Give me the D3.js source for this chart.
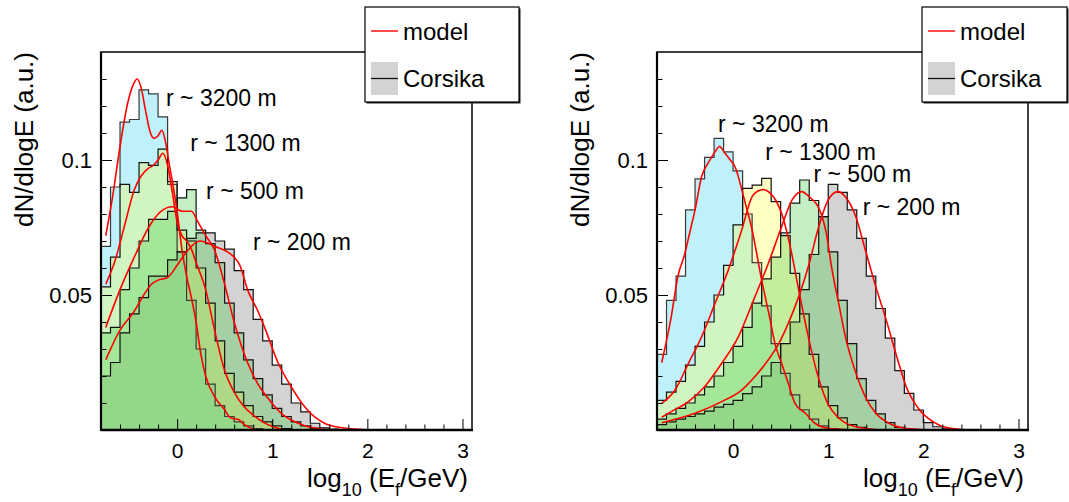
<!DOCTYPE html>
<html><head><meta charset="utf-8">
<script src="https://cdn.jsdelivr.net/npm/d3@7"></script>
<style>
html,body{margin:0;padding:0;background:#fff;}
svg{display:block;font-family:"Liberation Sans",Arial,sans-serif;}
</style></head><body>
<svg id="chart" width="1069" height="502"></svg>
<script>
// ---------------- DATA ----------------
const seriesNames = ["r ~ 3200 m", "r ~ 1300 m", "r ~ 500 m", "r ~ 200 m"];
const binStart = -0.8, binWidth = 0.1;
const xTickLabels = [0, 1, 2, 3];
const yTickLabels = [0.05, 0.1];

// Left panel: Corsika histograms (bins of 0.1 starting at -0.8)
const leftH3200 = [0.068,0.090,0.114,0.115,0.126,0.1245,0.116,0.091,0.066,0.048,0.030,0.017,0.009,0.005,0.003,0.0015,0.0005];
const leftH1300 = [0.053,0.064,0.091,0.088,0.099,0.098,0.104,0.092,0.074,0.070,0.060,0.047,0.033,0.021,0.014,0.009,0.005,0.003,0.0015,0.0005];
const leftH500  = [0.036,0.038,0.052,0.060,0.070,0.078,0.078,0.081,0.086,0.089,0.074,0.069,0.062,0.047,0.036,0.026,0.019,0.013,0.008,0.005,0.003,0.0015,0.0007];
const leftH200  = [0.020,0.025,0.036,0.043,0.049,0.057,0.057,0.063,0.066,0.071,0.073,0.073,0.070,0.067,0.059,0.052,0.041,0.033,0.024,0.017,0.010,0.0067,0.0025,0.0008,0.0003];

// Left panel: model curves [log10 E, dN/dlogE]
const leftM3200 = [[-0.75,0.072],[-0.68,0.086],[-0.6,0.105],[-0.52,0.121],[-0.46,0.128],[-0.42,0.130],[-0.38,0.127],[-0.33,0.118],[-0.28,0.110],[-0.24,0.108],[-0.2,0.109],[-0.16,0.111],[-0.13,0.108],[-0.08,0.098],[-0.04,0.090],[0,0.081],[0.05,0.067],[0.1,0.057],[0.15,0.049],[0.2,0.040],[0.25,0.028],[0.3,0.020],[0.4,0.012],[0.5,0.0075],[0.55,0.0048],[0.6,0.0042],[0.65,0.0038],[0.7,0.0022],[0.8,0.0003]];
const leftM1300 = [[-0.75,0.054],[-0.65,0.063],[-0.55,0.076],[-0.45,0.089],[-0.38,0.094],[-0.3,0.097],[-0.25,0.098],[-0.2,0.100],[-0.15,0.1025],[-0.1,0.098],[-0.05,0.088],[0,0.077],[0.05,0.072],[0.1,0.070],[0.15,0.067],[0.2,0.062],[0.3,0.052],[0.4,0.036],[0.5,0.022],[0.6,0.014],[0.7,0.0088],[0.8,0.0055],[0.9,0.003],[1.0,0.0013],[1.1,0.0003]];
const leftM500  = [[-0.75,0.038],[-0.6,0.052],[-0.45,0.064],[-0.3,0.075],[-0.17,0.081],[-0.05,0.0827],[0.05,0.081],[0.15,0.081],[0.22,0.077],[0.3,0.072],[0.39,0.067],[0.5,0.054],[0.6,0.040],[0.74,0.025],[0.85,0.017],[0.95,0.012],[1.1,0.006],[1.2,0.0037],[1.35,0.0015],[1.55,0.0002]];
const leftM200  = [[-0.75,0.026],[-0.6,0.037],[-0.45,0.044],[-0.35,0.050],[-0.27,0.054],[-0.2,0.0555],[-0.1,0.0565],[0,0.061],[0.1,0.066],[0.2,0.0695],[0.25,0.070],[0.3,0.0695],[0.4,0.068],[0.53,0.066],[0.6,0.064],[0.66,0.061],[0.74,0.052],[0.85,0.044],[0.92,0.038],[1.06,0.025],[1.2,0.016],[1.37,0.0074],[1.55,0.0025],[1.7,0.001],[2.0,0.0001]];

// Right panel: Corsika histograms
const rightH3200 = [0.028,0.048,0.057,0.0815,0.093,0.101,0.108,0.103,0.096,0.080,0.062,0.046,0.032,0.021,0.013,0.0075,0.004,0.0015,0.0005];
const rightH1300 = [0.011,0.014,0.018,0.024,0.031,0.040,0.050,0.061,0.076,0.0895,0.0907,0.0932,0.0846,0.072,0.058,0.043,0.028,0.016,0.009,0.0045,0.002,0.001];
const rightH500  = [0.004,0.006,0.008,0.010,0.013,0.016,0.020,0.025,0.031,0.038,0.047,0.056,0.064,0.073,0.084,0.0926,0.085,0.079,0.066,0.048,0.032,0.019,0.011,0.006,0.0027,0.001,0.0004];
const rightH200  = [0.002,0.003,0.004,0.005,0.006,0.007,0.0085,0.0095,0.011,0.0135,0.016,0.020,0.025,0.032,0.040,0.052,0.065,0.079,0.091,0.088,0.0815,0.071,0.057,0.045,0.034,0.022,0.0136,0.0074,0.0027,0.0012,0.0004];

// Right panel: model curves
const rightM3200 = [[-0.75,0.025],[-0.65,0.042],[-0.58,0.057],[-0.51,0.065],[-0.45,0.074],[-0.4,0.0815],[-0.33,0.094],[-0.26,0.099],[-0.19,0.103],[-0.145,0.105],[-0.085,0.1025],[-0.03,0.100],[0.02,0.0975],[0.11,0.0864],[0.2,0.074],[0.3,0.0556],[0.39,0.0407],[0.44,0.032],[0.51,0.0247],[0.58,0.0173],[0.65,0.0099],[0.76,0.0062],[0.86,0.0025],[1.0,0.0006],[1.2,0.0001]];
const rightM1300 = [[-0.75,0.0099],[-0.61,0.0148],[-0.47,0.0247],[-0.33,0.0346],[-0.19,0.0469],[-0.05,0.0593],[0.09,0.074],[0.2,0.0864],[0.26,0.0885],[0.32,0.0891],[0.38,0.088],[0.45,0.085],[0.53,0.078],[0.6,0.068],[0.7,0.050],[0.8,0.033],[0.9,0.019],[1.0,0.0095],[1.1,0.0048],[1.25,0.0016],[1.5,0.0002]];
const rightM500  = [[-0.75,0.0047],[-0.65,0.0068],[-0.47,0.0105],[-0.3,0.016],[-0.12,0.0247],[0.056,0.0346],[0.23,0.0494],[0.37,0.0617],[0.51,0.0753],[0.62,0.0852],[0.72,0.0883],[0.8,0.0864],[0.91,0.0815],[0.98,0.0728],[1.04,0.0593],[1.11,0.0469],[1.18,0.0346],[1.28,0.0222],[1.39,0.0123],[1.5,0.0062],[1.64,0.0025],[1.81,0.0006],[2.0,0.0001]];
const rightM200  = [[-0.75,0.0027],[-0.4,0.0062],[-0.12,0.0105],[0.09,0.0148],[0.23,0.0198],[0.37,0.026],[0.48,0.032],[0.58,0.0395],[0.69,0.0494],[0.8,0.0617],[0.9,0.0753],[1.0,0.0852],[1.1,0.0883],[1.18,0.0864],[1.29,0.079],[1.39,0.0667],[1.5,0.0531],[1.61,0.0407],[1.72,0.0272],[1.82,0.016],[1.96,0.0074],[2.1,0.0031],[2.24,0.0009],[2.4,0.0002],[2.6,0.0]];

// ---------------- CONFIG (positions / styles) ----------------
const xDomain = [-0.8, 3.1], yDomain = [0, 0.14];
const fillColors = ["#28d2f0", "#ffff3c", "#3cc83c", "#6e6e6e"];
const fillOpacity = 0.3;
const drawOrder = [3, 0, 1, 2];
const leftLabelAt  = [[-0.116,0.120],[0.137,0.1033],[0.305,0.0856],[0.798,0.0667]];
const rightLabelAt = [[-0.158,0.1104],[0.338,0.1000],[0.845,0.0918],[1.362,0.0796]];

const panels = [
  {x0:101, hist:[leftH3200,leftH1300,leftH500,leftH200], model:[leftM3200,leftM1300,leftM500,leftM200], labelAt:leftLabelAt, legX:365, legW:154, ytx:33},
  {x0:657, hist:[rightH3200,rightH1300,rightH500,rightH200], model:[rightM3200,rightM1300,rightM500,rightM200], labelAt:rightLabelAt, legX:922, legW:145, ytx:589}
];
const PW = 371, PTOP = 52, PBOT = 430;

const svg = d3.select("#chart");
svg.append("rect").attr("width",1069).attr("height",502).attr("fill","#fff");

panels.forEach((p, pi) => {
  const x = d3.scaleLinear().domain(xDomain).range([p.x0, p.x0 + PW]);
  const y = d3.scaleLinear().domain(yDomain).range([PBOT, PTOP]);
  const g = svg.append("g");
  const clipId = "clip" + pi;
  svg.append("clipPath").attr("id", clipId).append("rect")
    .attr("x", p.x0).attr("y", PTOP).attr("width", PW).attr("height", PBOT - PTOP);

  const plot = g.append("g").attr("clip-path", `url(#${clipId})`);

  const stepPts = vals => {
    const pts = [[binStart, 0]];
    vals.forEach((v, i) => {
      const a = binStart + i * binWidth, b = a + binWidth;
      pts.push([a, v], [b, v]);
    });
    pts.push([binStart + vals.length * binWidth, 0]);
    return pts;
  };
  const line = d3.line().x(d => x(d[0])).y(d => y(d[1]));

  // fills
  drawOrder.forEach(i => {
    plot.append("path").attr("d", line(stepPts(p.hist[i])) + "Z")
      .attr("fill", fillColors[i]).attr("fill-opacity", fillOpacity).attr("stroke", "none");
  });
  // outlines
  p.hist.forEach((vals, i) => {
    plot.append("path").attr("d", line(stepPts(vals)))
      .attr("fill", "none").attr("stroke", i === 0 ? "#3a3a3a" : "#111").attr("stroke-width", 1.2);
  });
  // model curves
  const curve = d3.line().x(d => x(d[0])).y(d => y(d[1])).curve(d3.curveMonotoneX);
  p.model.forEach(m => {
    plot.append("path").attr("d", curve(m)).attr("fill", "none")
      .attr("stroke", "#ff0000").attr("stroke-width", 1.6);
  });

  // minor / major ticks
  const xMinor = d3.range(-0.6, 3.05, 0.2).map(v => +v.toFixed(2)).filter(v => Math.abs(v - Math.round(v)) > 1e-6);
  g.append("g").attr("transform", `translate(0,${PBOT})`)
    .call(d3.axisBottom(x).tickValues(xMinor).tickSize(-5.5).tickFormat(""))
    .call(s => s.select(".domain").remove())
    .call(s => s.selectAll("line").attr("stroke", "#000"));
  g.append("g").attr("transform", `translate(0,${PBOT})`)
    .call(d3.axisBottom(x).tickValues(xTickLabels).tickSize(-11).tickPadding(13).tickFormat(d3.format("d")))
    .call(s => s.select(".domain").remove())
    .call(s => s.selectAll("line").attr("stroke", "#000"))
    .call(s => s.selectAll("text").attr("font-size", 21).attr("fill", "#000")
      .attr("font-family", '"Liberation Sans",Arial,sans-serif'));

  const yMinor = d3.range(0.01, 0.135, 0.01).map(v => +v.toFixed(3)).filter(v => yTickLabels.indexOf(v) < 0);
  g.append("g").attr("transform", `translate(${p.x0},0)`)
    .call(d3.axisLeft(y).tickValues(yMinor).tickSize(-5.5).tickFormat(""))
    .call(s => s.select(".domain").remove())
    .call(s => s.selectAll("line").attr("stroke", "#000"));
  g.append("g").attr("transform", `translate(${p.x0},0)`)
    .call(d3.axisLeft(y).tickValues(yTickLabels).tickSize(-11).tickPadding(9).tickFormat(d => String(d)))
    .call(s => s.select(".domain").remove())
    .call(s => s.selectAll("line").attr("stroke", "#000"))
    .call(s => s.selectAll("text").attr("font-size", 22).attr("fill", "#000")
      .attr("font-family", '"Liberation Sans",Arial,sans-serif'));

  // frame
  g.append("rect").attr("x", p.x0).attr("y", PTOP).attr("width", PW).attr("height", PBOT - PTOP)
    .attr("fill", "none").attr("stroke", "#000").attr("stroke-width", 1.5);
  g.append("line").attr("x1", p.x0).attr("x2", p.x0).attr("y1", PTOP).attr("y2", PBOT + 1)
    .attr("stroke", "#000").attr("stroke-width", 2.2);
  g.append("line").attr("x1", p.x0).attr("x2", p.x0 + PW + 1).attr("y1", PBOT).attr("y2", PBOT)
    .attr("stroke", "#000").attr("stroke-width", 2.4);

  // series labels
  p.labelAt.forEach((pos, i) => {
    g.append("text").attr("x", x(pos[0])).attr("y", y(pos[1]))
      .attr("font-size", 23).attr("fill", "#000").text(seriesNames[i]);
  });

  // axis titles
  g.append("text").attr("transform", `translate(${p.ytx},${PTOP}) rotate(-90)`)
    .attr("text-anchor", "end").attr("font-size", 26).attr("fill", "#000").text("dN/dlogE (a.u.)");
  const xt = g.append("text").attr("x", p.x0 + PW - 4).attr("y", 487)
    .attr("text-anchor", "end").attr("font-size", 26).attr("fill", "#000");
  xt.append("tspan").text("log");
  xt.append("tspan").attr("dy", 9).attr("font-size", 18).text("10");
  xt.append("tspan").attr("dy", -9).text(" (E");
  xt.append("tspan").attr("dy", 9).attr("font-size", 18).text("f");
  xt.append("tspan").attr("dy", -9).text("/GeV)");

  // legend
  const L = g.append("g");
  L.append("rect").attr("x", p.legX + 1.5).attr("y", 8.5).attr("width", p.legW).attr("height", 95).attr("fill", "#222");
  L.append("rect").attr("x", p.legX).attr("y", 7).attr("width", p.legW).attr("height", 95)
    .attr("fill", "#fff").attr("stroke", "#000").attr("stroke-width", 1.2);
  L.append("line").attr("x1", p.legX + 6).attr("x2", p.legX + 33).attr("y1", 31).attr("y2", 31)
    .attr("stroke", "#ff2020").attr("stroke-width", 1.6);
  L.append("text").attr("x", p.legX + 38).attr("y", 40).attr("font-size", 24).attr("fill", "#000").text("model");
  L.append("rect").attr("x", p.legX + 6).attr("y", 62).attr("width", 27).attr("height", 33)
    .attr("fill", fillColors[3]).attr("fill-opacity", fillOpacity);
  L.append("line").attr("x1", p.legX + 6).attr("x2", p.legX + 33).attr("y1", 78.5).attr("y2", 78.5)
    .attr("stroke", "#111").attr("stroke-width", 1.3);
  L.append("text").attr("x", p.legX + 38).attr("y", 87).attr("font-size", 24).attr("fill", "#000").text("Corsika");
});
</script>
</body></html>
